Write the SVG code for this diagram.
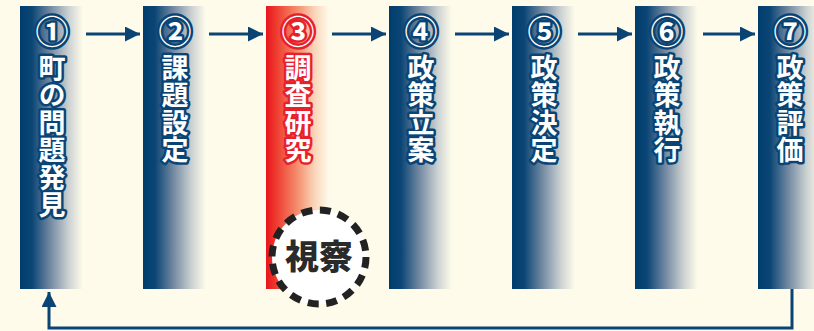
<svg xmlns="http://www.w3.org/2000/svg" width="814" height="331" viewBox="0 0 814 331">
<defs>
<linearGradient id="gb" x1="0" y1="0" x2="1" y2="0">
<stop offset="0" stop-color="#003D6D"/>
<stop offset="0.18" stop-color="#0A4575"/>
<stop offset="0.46" stop-color="#7389A2"/>
<stop offset="0.74" stop-color="#CDD2D2"/>
<stop offset="0.95" stop-color="#FDFBEA"/>
</linearGradient>
<linearGradient id="gr" x1="0" y1="0" x2="1" y2="0">
<stop offset="0" stop-color="#E8141E"/>
<stop offset="0.15" stop-color="#EE3A2E"/>
<stop offset="0.46" stop-color="#F48A6A"/>
<stop offset="0.74" stop-color="#FAD6BA"/>
<stop offset="0.95" stop-color="#FEFAEA"/>
</linearGradient>
<marker id="ah" viewBox="0 0 10 10" refX="10" refY="5" markerWidth="7" markerHeight="5" markerUnits="strokeWidth" orient="auto">
<path d="M0,0 L10,5 L0,10 Z" fill="#0A4474"/>
</marker>
<style>
.lbl{font-family:"Noto Sans CJK JP","Noto Sans",sans-serif;font-weight:700;font-size:27px;fill:#fff;stroke:#0A4474;stroke-width:5;stroke-linejoin:round;paint-order:stroke}
.v{writing-mode:vertical-rl;text-orientation:upright;letter-spacing:0.5px}
.red{stroke:#E8202A}
.num{font-size:33px;text-anchor:middle}
.con{fill:none;stroke:#0A4474;stroke-width:3}
</style>
</defs>
<rect width="814" height="331" fill="#FEFBEA"/>
<g id="connectors">
<line class="con" x1="79" y1="34" x2="140" y2="34" marker-end="url(#ah)"/>
<line class="con" x1="202" y1="34" x2="263" y2="34" marker-end="url(#ah)"/>
<line class="con" x1="325" y1="34" x2="386" y2="34" marker-end="url(#ah)"/>
<line class="con" x1="452" y1="34" x2="509" y2="34" marker-end="url(#ah)"/>
<line class="con" x1="575" y1="34" x2="632" y2="34" marker-end="url(#ah)"/>
<line class="con" x1="703" y1="34" x2="755" y2="34" marker-end="url(#ah)"/>
<polyline class="con" points="792,289 792,328 49,328 49,292" marker-end="url(#ah)"/>
</g>
<g id="n1">
<rect x="20" y="6" width="66" height="283" fill="url(#gb)"/>
<text class="lbl num" x="52" y="44">①</text>
<text class="lbl v" x="52" y="54">町の問題発見</text>
</g>
<g id="n2">
<rect x="143" y="6" width="66" height="283" fill="url(#gb)"/>
<text class="lbl num" x="175" y="44">②</text>
<text class="lbl v" x="175" y="54">課題設定</text>
</g>
<g id="n3">
<rect x="266" y="6" width="66" height="283" fill="url(#gr)"/>
<text class="lbl num red" x="298" y="44">③</text>
<text class="lbl v red" x="298" y="54">調査研究</text>
</g>
<g id="n4">
<rect x="389" y="6" width="66" height="283" fill="url(#gb)"/>
<text class="lbl num" x="421" y="44">④</text>
<text class="lbl v" x="421" y="54">政策立案</text>
</g>
<g id="n5">
<rect x="512" y="6" width="66" height="283" fill="url(#gb)"/>
<text class="lbl num" x="544" y="44">⑤</text>
<text class="lbl v" x="544" y="54">政策決定</text>
</g>
<g id="n6">
<rect x="635" y="6" width="66" height="283" fill="url(#gb)"/>
<text class="lbl num" x="667" y="44">⑥</text>
<text class="lbl v" x="667" y="54">政策執行</text>
</g>
<g id="n7">
<rect x="758" y="6" width="66" height="283" fill="url(#gb)"/>
<text class="lbl num" x="790" y="44">⑦</text>
<text class="lbl v" x="790" y="54">政策評価</text>
</g>
<g id="shisatsu">
<circle cx="319" cy="257" r="47" fill="#fff" stroke="#222" stroke-width="7" stroke-dasharray="11 7.5"/>
<text x="319" y="269" font-family="'Noto Sans CJK JP','Noto Sans',sans-serif" font-weight="900" font-size="34" fill="#2A2A2A" stroke="#fff" stroke-width="3" paint-order="stroke" text-anchor="middle">視察</text>
</g>
</svg>
